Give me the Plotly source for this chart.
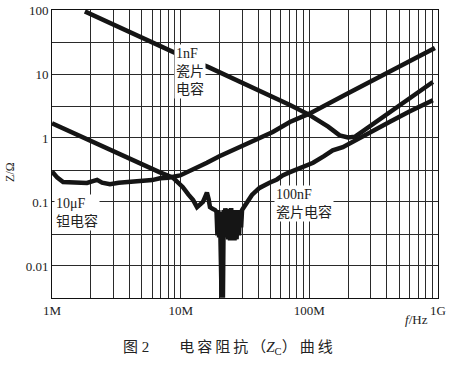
import plotly.graph_objects as go
import numpy as np

# ---------------- data (frequency in MHz, impedance in ohm) ----------------
f_1nF = [1.8, 3.0, 5.0, 8.7, 12.0, 16.3, 24.2, 40.0, 70.7, 100.0, 140.0, 172.0, 200.0, 227.0, 300.0, 423.0, 600.0, 912.0]
z_1nF = [95.0, 59.0, 37.5, 22.0, 16.5, 12.9, 9.0, 5.6, 3.28, 2.3, 1.5, 1.1, 1.02, 1.05, 1.56, 2.55, 4.2, 7.5]

f_10uF = [1.0, 1.1, 1.22, 1.5, 1.87, 2.05, 2.24, 2.45, 2.82, 3.3, 3.8, 4.26, 5.1, 6.0, 6.9, 8.0, 9.9,
          12.0, 16.0, 20.0, 28.8, 40.0, 52.0, 70.6, 100.0, 200.0, 400.0, 700.0, 946.0]
z_10uF = [0.30, 0.24, 0.205, 0.20, 0.198, 0.21, 0.222, 0.20, 0.19, 0.20, 0.205, 0.205, 0.21, 0.22, 0.235, 0.24, 0.26,
          0.31, 0.41, 0.52, 0.72, 0.97, 1.24, 1.78, 2.4, 5.0, 10.3, 18.5, 25.5]

f_100nF = [1.0, 1.5, 2.0, 3.0, 4.0, 5.47, 6.9, 8.7, 10.4, 11.5, 12.5, 13.4, 14.2, 14.9, 15.5, 16.0, 16.5, 16.9,
           17.7, 18.5, 19.0,
           19.3, 19.6, 19.9, 20.2, 20.5, 20.8, 21.0, 21.3, 21.6, 21.9, 22.2, 22.6, 23.0, 23.4, 23.8, 24.2,
           24.7, 25.2, 25.7, 26.2, 26.7, 27.2, 27.8, 28.4, 29.0, 29.5, 30.0,
           33.0, 35.8, 41.0, 45.0, 49.0, 56.0, 62.0, 70.0, 80.0, 92.0, 107.0, 130.0, 152.0, 182.0, 250.0,
           330.0, 423.0, 600.0, 760.0, 912.0]
z_100nF = [1.7, 1.17, 0.89, 0.61, 0.47, 0.35, 0.29, 0.24, 0.17, 0.13, 0.107, 0.083, 0.09, 0.10, 0.12, 0.14, 0.11, 0.083,
           0.078, 0.075, 0.07,
           0.03, 0.075, 0.028, 0.07, 0.025, 0.0032, 0.07, 0.0032, 0.075, 0.03, 0.08, 0.028, 0.078, 0.026, 0.075, 0.025,
           0.08, 0.027, 0.075, 0.025, 0.072, 0.026, 0.075, 0.03, 0.07, 0.04, 0.075,
           0.10, 0.129, 0.166, 0.185, 0.20, 0.225, 0.26, 0.29, 0.32, 0.36, 0.41, 0.52, 0.64, 0.72, 1.0,
           1.35, 1.8, 2.6, 3.25, 3.9]

x_tick_vals = [m * 10 ** e for e in (6, 7, 8) for m in range(1, 10)] + [1e9]
x_tick_text = ["1M"] + [""] * 8 + ["10M"] + [""] * 8 + ["100M"] + [""] * 8 + ["1G"]

y_tick_vals = [0.00316, 0.01, 0.0316, 0.1, 0.316, 1, 3.16, 10, 31.6, 100]
y_tick_text = ["", "0.01", "", "0.1", "", "1", "", "10", "", "100"]

label_1nF = "1nF<br>瓷片<br>电容"
label_10uF = "10μF<br>钽电容"
label_100nF = "100nF<br>瓷片电容"
x_title = "<i>f</i>/Hz"
y_title = "Z/Ω"
caption = "图 2\u2003\u2003电\u2009容\u2009阻\u2009抗\u2009（<i>Z</i><sub>C</sub>）\u2009曲\u2009线"

# ---------------- figure ----------------
LINE = "#151515"
SERIF = "Liberation Serif, Noto Sans CJK SC"

fig = go.Figure()
for fx, zy in ((f_1nF, z_1nF), (f_10uF, z_10uF), (f_100nF, z_100nF)):
    fig.add_trace(go.Scatter(
        x=[v * 1e6 for v in fx], y=zy, mode="lines",
        line=dict(color=LINE, width=4.5), showlegend=False, hoverinfo="skip"))

axis_common = dict(
    type="log", tickmode="array", showgrid=True, gridcolor="#2a2a2a", gridwidth=1, ticks="",
    showline=True, linecolor="#111111", linewidth=1, mirror=True, zeroline=False,
    tickfont=dict(family=SERIF, size=13, color="#222222"))
fig.update_xaxes(range=[6, 9], tickvals=x_tick_vals, ticktext=x_tick_text, **axis_common)
fig.update_yaxes(range=[np.log10(0.00316), 2], tickvals=y_tick_vals, ticktext=y_tick_text, **axis_common)

lab_font = dict(family=SERIF, size=14, color="#222222")
fig.add_annotation(x=6.948, y=1.469, xref="x", yref="y", text=label_1nF, showarrow=False,
                   xanchor="left", yanchor="top", align="left", bgcolor="white", borderpad=1, font=lab_font)
fig.add_annotation(x=6.016, y=-0.875, xref="x", yref="y", text=label_10uF, showarrow=False,
                   xanchor="left", yanchor="top", align="left", bgcolor="white", borderpad=1, font=lab_font)
fig.add_annotation(x=7.725, y=-0.734, xref="x", yref="y", text=label_100nF, showarrow=False,
                   xanchor="left", yanchor="top", align="left", bgcolor="white", borderpad=1, font=lab_font)

fig.add_annotation(x=0.945, y=-0.075, xref="paper", yref="paper", text=x_title, showarrow=False,
                   xanchor="center", yanchor="middle", font=dict(family=SERIF, size=13, color="#222222"))
fig.add_annotation(x=-0.109, y=0.4375, xref="paper", yref="paper", text=y_title, showarrow=False,
                   textangle=-90, xanchor="center", yanchor="middle",
                   font=dict(family=SERIF, size=12, color="#222222"))
fig.add_annotation(x=0.455, y=-0.174, xref="paper", yref="paper", text=caption, showarrow=False,
                   xanchor="center", yanchor="middle", font=dict(family=SERIF, size=15, color="#222222"))

fig.update_layout(
    template="none",
    width=460, height=390,
    margin=dict(l=52, r=22, t=10, b=92),
    paper_bgcolor="white", plot_bgcolor="white")

fig.write_html("out.html", config={"displayModeBar": False},
               post_script="document.body.style.margin='0';document.body.style.overflow='hidden';")
